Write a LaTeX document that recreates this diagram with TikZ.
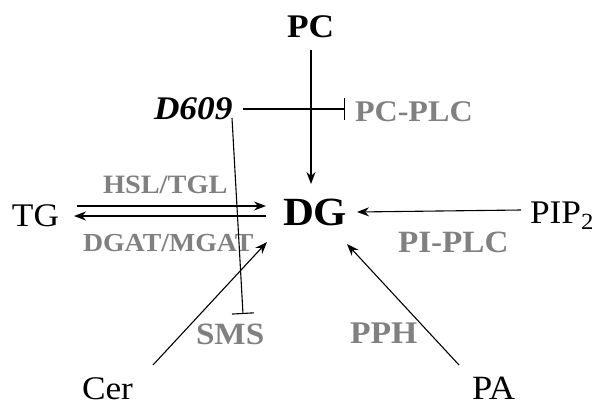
\documentclass[tikz,border=0pt]{standalone}
\usepackage{fontspec}
\setmainfont[FakeStretch=1.07]{Liberation Serif}
\usetikzlibrary{arrows.meta}
\newcommand\fsz[1]{\fontsize{#1}{#1}\selectfont}
\definecolor{lbl}{RGB}{128,128,128}
\begin{document}
\begin{tikzpicture}[x=1pt,y=-1pt,
  every node/.style={inner sep=0pt,outer sep=0pt,anchor=base west},
  mol/.style={font=\fsz{33}},
  bmol/.style={font=\fsz{33}\bfseries},
  enz/.style={text=lbl,font=\fsz{#1}\bfseries},
  conn/.style={line width=1.1pt},
  arr/.style={conn,-{Stealth[length=12pt,width=9pt]}},
  inh/.style={conn,-{Bar[width=22pt]}}]
\useasboundingbox (0,0) rectangle (600,405);
\node[bmol] (PC) at (287,37) {PC};
\node[font=\fsz{33}\bfseries\itshape] (D609) at (154,119) {D609};
\node[enz=30] (PCPLC) at (355,121) {PC-PLC};
\node[enz=26.5] (HSL) at (103,193) {HSL/TGL};
\node[mol] (TG) at (12,226) {TG};
\node[font=\fsz{40}\bfseries] (DG) at (283,225) {DG};
\node[enz=26] (DGAT) at (83,251) {DGAT/MGAT};
\node[mol] (PIP) at (530,223) {PIP\textsubscript{2}};
\node[enz=31] (PIPLC) at (398,252) {PI-PLC};
\node[enz=31] (SMS) at (196,344) {SMS};
\node[enz=31.5] (PPH) at (350,343) {PPH};
\node[mol] (Cer) at (82,399) {Cer};
\node[font=\fsz{34}] (PA) at (472,399) {PA};
% connector end points
\coordinate (pcS) at (311,50);   \coordinate (dgN) at (311,184);
\coordinate (dA) at (243,109);   \coordinate (plcW) at (345,109);
\coordinate (dB) at (232,118);   \coordinate (smsN) at (243,314);
\coordinate (tgA) at (77,206);   \coordinate (dgA) at (266,206);
\coordinate (dgB) at (266,216);  \coordinate (tgB) at (74,216);
\coordinate (cerN) at (153,365); \coordinate (dgSW) at (267,242);
\coordinate (paN) at (459,365);  \coordinate (dgSE) at (347,244);
\coordinate (pipW) at (521,210); \coordinate (dgE) at (357,212);
\draw[arr] (pcS) -- (dgN);
\draw[inh] (dA) -- (plcW);
\draw[inh] (dB) -- (smsN);
\draw[arr] (tgA) -- (dgA);
\draw[arr,line width=1.8pt] (dgB) -- (tgB);
\draw[arr] (cerN) -- (dgSW);
\draw[arr] (paN) -- (dgSE);
\draw[arr] (pipW) -- (dgE);
\end{tikzpicture}
\end{document}
